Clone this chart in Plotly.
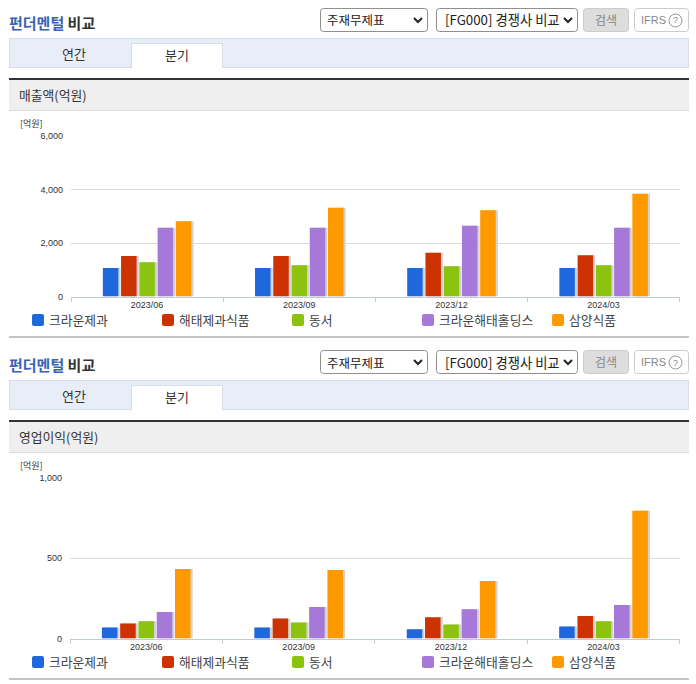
import plotly.graph_objects as go
from plotly.subplots import make_subplots

W, H = 696, 684

quarters = ["2023/06", "2023/09", "2023/12", "2024/03"]
companies = ["크라운제과", "해태제과식품", "동서", "크라운해태홀딩스", "삼양식품"]
colors = ["#1f67dc", "#cc3300", "#8cc30f", "#a678d8", "#ff9900"]

# 매출액(억원)
sales_crown = [1070, 1070, 1070, 1070]
sales_haitai = [1510, 1510, 1632, 1545]
sales_dongsuh = [1283, 1172, 1134, 1172]
sales_holdings = [2570, 2570, 2642, 2570]
sales_samyang = [2817, 3314, 3228, 3838]

# 영업이익(억원)
profit_crown = [69, 69, 58, 75]
profit_haitai = [94, 125, 133, 140]
profit_dongsuh = [108, 100, 88, 108]
profit_holdings = [165, 196, 183, 208]
profit_samyang = [433, 427, 358, 796]

sales = [sales_crown, sales_haitai, sales_dongsuh, sales_holdings, sales_samyang]
profit = [profit_crown, profit_haitai, profit_dongsuh, profit_holdings, profit_samyang]

KR = "Noto Sans CJK KR"
LAT = "Liberation Sans"
OFFSET = 342  # second panel sits this many pixels below the first


def px(x):
    return x / W


def py(y):
    return 1 - y / H


def rrect(x0, y0, x1, y1, r):
    a, b, c, d = px(x0), py(y0), px(x1), py(y1)
    rx, ry = r / W, r / H
    return (f"M{a + rx},{b} L{c - rx},{b} Q{c},{b} {c},{b - ry} L{c},{d + ry} Q{c},{d} {c - rx},{d} "
            f"L{a + rx},{d} Q{a},{d} {a},{d + ry} L{a},{b - ry} Q{a},{b} {a + rx},{b} Z")


shapes = []
annotations = []


def box(x0, y0, x1, y1, fill, line=None, lw=1):
    shapes.append(dict(type="rect", xref="paper", yref="paper", x0=px(x0), x1=px(x1), y0=py(y0), y1=py(y1),
                       fillcolor=fill, line=dict(color=line or fill, width=lw if line else 0), layer="below"))


def rbox(x0, y0, x1, y1, r, fill, line):
    shapes.append(dict(type="path", xref="paper", yref="paper", path=rrect(x0, y0, x1, y1, r),
                       fillcolor=fill, line=dict(color=line, width=1), layer="below"))


def label(x, y, text, size=12.8, color="#333333", anchor="left", family=KR):
    annotations.append(dict(xref="paper", yref="paper", x=px(x), y=py(y), text=text, showarrow=False,
                            xanchor=anchor, yanchor="middle", borderpad=0, borderwidth=0,
                            font=dict(size=size, color=color, family=family)))


def chevron(x, y):
    path = f"M{px(x - 4)},{py(y - 2)} L{px(x)},{py(y + 2)} L{px(x + 4)},{py(y - 2)}"
    shapes.append(dict(type="path", xref="paper", yref="paper", path=path,
                       line=dict(color="#222222", width=2)))


def panel(dy, heading, unit_y):
    label(9, 23 + dy, "<b><span style='color:#3a62b4'>펀더멘털</span> 비교</b>", size=15)
    rbox(320.5, 8.5 + dy, 427.5, 31.5 + dy, 3, "#ffffff", "#8f8f8f")
    label(327, 20 + dy, "주재무제표", size=12.5, color="#222222")
    chevron(418, 20 + dy)
    rbox(436.5, 8.5 + dy, 577.5, 31.5 + dy, 3, "#ffffff", "#8f8f8f")
    label(445, 20 + dy, "[FG000] 경쟁사 비교", size=13.3, color="#222222")
    chevron(568, 20 + dy)
    rbox(583.5, 8.5 + dy, 628.5, 31.5 + dy, 3, "#dddddd", "#cccccc")
    label(606, 19.5 + dy, "검색", size=12, color="#888888", anchor="center")
    rbox(634.5, 8.5 + dy, 688.5, 31.5 + dy, 3, "#ffffff", "#cccccc")
    label(641, 20 + dy, "IFRS", size=11, color="#888888", family=LAT)
    shapes.append(dict(type="circle", xref="paper", yref="paper", x0=px(669), x1=px(682),
                       y0=py(14 + dy), y1=py(27 + dy), line=dict(color="#999999", width=1)))
    label(675.5, 20.5 + dy, "?", size=9, color="#888888", anchor="center", family=LAT)

    box(9.5, 38.5 + dy, 688.5, 67.5 + dy, "#e8eef8", "#d6dde8")
    box(131.5, 43.5 + dy, 222.5, 68 + dy, "#ffffff", "#d6dde8")
    box(132, 66 + dy, 222, 69 + dy, "#ffffff")
    label(74, 53.3 + dy, "연간", size=13, anchor="center")
    label(177, 54.3 + dy, "분기", size=13, anchor="center")

    box(9, 78 + dy, 689, 80 + dy, "#333333")
    box(9, 80 + dy, 689, 110 + dy, "#efefef")
    box(9, 110 + dy, 689, 111 + dy, "#dddddd")
    label(19, 94.3 + dy, heading)
    label(20, unit_y, "[억원]", size=9)
    box(9, 336 + dy, 689, 338 + dy, "#c4c4c4")

    for name, color, x in zip(companies, colors, [32, 162, 292, 422, 552]):
        shapes.append(dict(type="path", xref="paper", yref="paper",
                           path=rrect(x, 314 + dy, x + 12, 326 + dy, 2),
                           fillcolor=color, line=dict(width=0)))
        label(x + 17, 319.3 + dy, name, color="#444444")


panel(0, "매출액(억원)", 123)
panel(OFFSET, "영업이익(억원)", 123 + OFFSET)

fig = make_subplots(rows=2, cols=1)

BAND = 152.2  # pixels per category
BAR = 15.5 / BAND
STEP = 18.25 / BAND
SHADOW = 2.2 / BAND

for row, series in [(1, sales), (2, profit)]:
    for i, values in enumerate(series):
        start = (i - 2.5) * STEP + (STEP - BAR) / 2
        fig.add_trace(go.Bar(x=quarters, y=values, offset=start + SHADOW, width=BAR,
                             marker=dict(color="#d2d2d2", line=dict(width=0)),
                             hoverinfo="skip", showlegend=False), row=row, col=1)
    for i, values in enumerate(series):
        start = (i - 2.5) * STEP + (STEP - BAR) / 2
        fig.add_trace(go.Bar(x=quarters, y=values, offset=start, width=BAR, name=companies[i],
                             marker=dict(color=colors[i], line=dict(width=0)),
                             showlegend=False), row=row, col=1)

fig.update_xaxes(showgrid=False, showline=True, linecolor="#c0ccdc", linewidth=1,
                 tickson="boundaries", ticks="outside", ticklen=4, tickcolor="#c0ccdc",
                 tickfont=dict(size=9, color="#333333", family=LAT))
fig.update_yaxes(showgrid=True, gridcolor="#d8dde4", gridwidth=1, zeroline=False, showline=False,
                 tickformat=",", ticks="", ticklabelstandoff=7,
                 tickfont=dict(size=9, color="#333333", family=LAT))

fig.update_xaxes(domain=[px(71), px(679.7)], row=1, col=1)
fig.update_xaxes(domain=[px(70), px(679.7)], row=2, col=1)
fig.update_yaxes(domain=[py(296.5), py(136)], range=[0, 6000], tickvals=[0, 2000, 4000, 6000], row=1, col=1)
fig.update_yaxes(domain=[py(296.5 + OFFSET), py(136 + OFFSET)], range=[0, 1000], tickvals=[0, 500, 1000],
                 row=2, col=1)

fig.update_layout(
    width=W,
    height=H,
    barmode="overlay",
    plot_bgcolor="white",
    paper_bgcolor="white",
    showlegend=False,
    margin=dict(l=0, r=0, t=0, b=0, autoexpand=False),
    font=dict(family=KR),
    shapes=shapes,
    annotations=annotations,
)

fig.write_html("out.html", config=dict(displayModeBar=False),
               post_script="document.body.style.margin='0';document.body.style.overflow='hidden';")
